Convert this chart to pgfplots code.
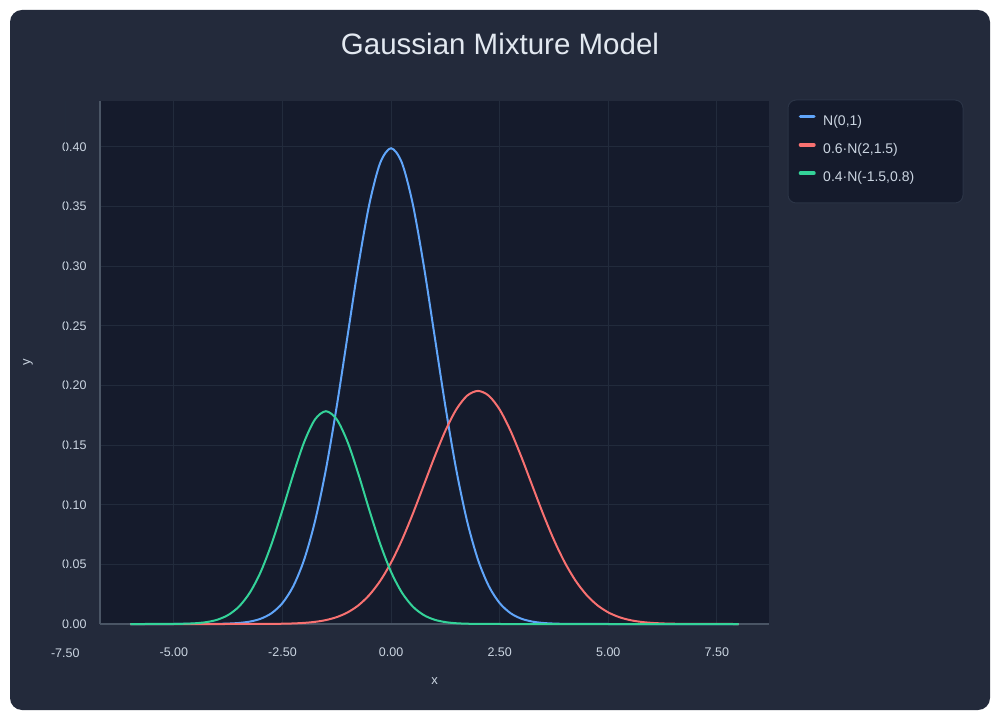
\documentclass[border=0pt]{standalone}
\usepackage{pgfplots}
\pgfplotsset{compat=1.18}
\usepackage{fontspec}
\setmainfont{Liberation Sans}
\definecolor{cardbg}{HTML}{232A3B}
\definecolor{plotbg}{HTML}{151B2C}
\definecolor{gridc}{HTML}{222B3C}
\definecolor{axisc}{HTML}{4A5565}
\definecolor{tickc}{HTML}{CBD5E1}
\definecolor{titlec}{HTML}{E2E8F0}
\definecolor{legborder}{HTML}{2B3446}
\definecolor{cblue}{HTML}{60A5FA}
\definecolor{cred}{HTML}{F87171}
\definecolor{cgreen}{HTML}{34D399}
\begin{document}
\begin{tikzpicture}
\fill[white] (0pt,0pt) rectangle (1000pt,720pt);
\useasboundingbox (0pt,0pt) rectangle (1000pt,720pt);
\fill[cardbg, rounded corners=12pt] (10pt,10pt) rectangle (990pt,710pt);
\node[text=titlec, font=\fontsize{29.5}{34}\selectfont] at (500pt,676pt) {Gaussian Mixture Model};
\filldraw[fill=plotbg, draw=legborder, line width=1pt, rounded corners=8pt] (788pt,517pt) rectangle (963pt,620pt);
\begin{axis}[
  at={(100pt,96pt)}, anchor=south west, scale only axis,
  width=669pt, height=523.3pt,
  xmin=-6.7, xmax=8.7, ymin=0, ymax=0.4388,
  clip=false,
  axis background/.style={fill=plotbg},
  axis x line*=bottom, axis y line*=left,
  axis line style={draw=axisc, line width=1.5pt, -},
  xtick={-5,-2.5,0,2.5,5,7.5},
  ytick={0,0.05,0.1,0.15,0.2,0.25,0.3,0.35,0.4},
  grid=major, major grid style={draw=gridc, line width=1pt},
  major tick length=0pt,
  tick label style={font=\fontsize{12.5}{15}\selectfont, text=tickc},
  xticklabel shift=20pt, yticklabel shift=10pt,
  scaled y ticks=false, scaled x ticks=false,
  /pgf/number format/fixed, /pgf/number format/fixed zerofill,
  /pgf/number format/precision=2, /pgf/number format/assume math mode=true,
  xlabel={x}, ylabel={y},
  label style={font=\fontsize{13}{15}\selectfont, text=tickc},
  xlabel style={at={(axis description cs:0.5,-0.109)}, anchor=center},
  ylabel style={at={(axis description cs:-0.1076,0.5)}, anchor=center},
  legend style={at={(axis description cs:1.0441,0.9732)}, anchor=north west,
    draw=none, fill=none, text=tickc, font=\fontsize{14}{16}\selectfont,
    inner sep=0pt, row sep=15pt, column sep=7.5pt,
    nodes={inner sep=0pt, text height=10pt, text depth=3pt}},
  legend cell align=left,
  legend image code/.code={\draw[#1, line width=3.5pt, line cap=round] (0.25pt,5pt) -- (13.75pt,5pt);},
]
\draw[gridc, line width=1pt] (axis cs:-7.5,0) -- (axis cs:-7.5,0.4388);
\node[font=\fontsize{12.5}{15}\selectfont, text=tickc, anchor=north, inner sep=0pt] at ([yshift=-24.5pt]axis cs:-7.5,0) {-7.50};
\addplot[cblue, line width=2pt, smooth] coordinates {
(-6,0) (-5,0.0000015) (-4.5,0.000016) (-4,0.000134) (-3.75,0.00035) (-3.5,0.00087) (-3.25,0.00203) (-3,0.00443) (-2.75,0.00909) (-2.5,0.01753) (-2.25,0.03174) (-2,0.05399) (-1.75,0.08628) (-1.5,0.12952) (-1.25,0.18265) (-1,0.24197) (-0.75,0.30114) (-0.5,0.35207) (-0.25,0.38667) (0,0.39894) (0.25,0.38667) (0.5,0.35207) (0.75,0.30114) (1,0.24197) (1.25,0.18265) (1.5,0.12952) (1.75,0.08628) (2,0.05399) (2.25,0.03174) (2.5,0.01753) (2.75,0.00909) (3,0.00443) (3.25,0.00203) (3.5,0.00087) (3.75,0.00035) (4,0.000134) (4.5,0.000016) (5,0.0000015) (6,0) (8,0)};
\addlegendentry{N(0,1)}
\addplot[cred, line width=2pt, smooth] coordinates {
(-6,0) (-4,0.000001) (-3.5,0.000008) (-3,0.00005) (-2.75,0.00011) (-2.5,0.00023) (-2.25,0.00047) (-2,0.00094) (-1.75,0.00180) (-1.5,0.00329) (-1.25,0.00578) (-1,0.00973) (-0.75,0.01571) (-0.5,0.02434) (-0.25,0.03615) (0,0.05152) (0.25,0.07041) (0.5,0.09232) (0.75,0.11610) (1,0.14004) (1.25,0.16203) (1.5,0.17981) (1.75,0.19141) (2,0.19544) (2.25,0.19141) (2.5,0.17981) (2.75,0.16203) (3,0.14004) (3.25,0.11610) (3.5,0.09232) (3.75,0.07041) (4,0.05152) (4.25,0.03615) (4.5,0.02434) (4.75,0.01571) (5,0.00973) (5.25,0.00578) (5.5,0.00329) (5.75,0.00180) (6,0.00094) (6.25,0.00047) (6.5,0.00023) (6.75,0.00011) (7,0.00005) (7.5,0.000008) (8,0.000001)};
\addlegendentry{0.6·N(2,1.5)}
\addplot[cgreen, line width=2pt, smooth] coordinates {
(-6,0) (-5.5,0.000008) (-5,0.00008) (-4.75,0.00024) (-4.5,0.00064) (-4.25,0.00158) (-4,0.00359) (-3.75,0.00754) (-3.5,0.01464) (-3.25,0.02632) (-3,0.04372) (-2.75,0.06719) (-2.5,0.09550) (-2.25,0.12553) (-2,0.15260) (-1.75,0.17158) (-1.5,0.17841) (-1.25,0.17158) (-1,0.15260) (-0.75,0.12553) (-0.5,0.09550) (-0.25,0.06719) (0,0.04372) (0.25,0.02632) (0.5,0.01464) (0.75,0.00754) (1,0.00359) (1.25,0.00158) (1.5,0.00064) (1.75,0.00024) (2,0.00008) (2.5,0.000008) (3,0) (8,0)};
\addlegendentry{0.4·N(-1.5,0.8)}
\end{axis}
\end{tikzpicture}
\end{document}
